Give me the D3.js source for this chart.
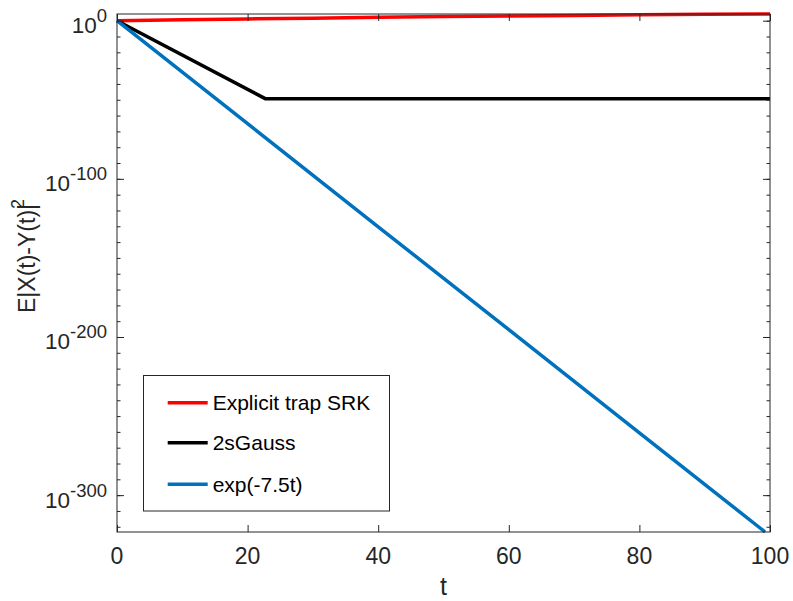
<!DOCTYPE html>
<html>
<head>
<meta charset="utf-8">
<style>
  body { margin: 0; background: #fff; }
  text { font-family: "Liberation Sans", Arial, sans-serif; }
</style>
</head>
<body>
<script src="https://cdn.jsdelivr.net/npm/d3@7"></script>
<svg width="793" height="601"></svg>
<script>
// series (y values given as powers of ten)
var seriesNames = ["Explicit trap SRK", "2sGauss", "exp(-7.5t)"];
var seriesColors = ["#ff0000", "#000000", "#0072bd"];

var redT = [0, 10, 20, 30, 40, 50, 60, 70, 80, 90, 100];
var redExp = [0, 0.55, 1.1, 1.6, 2.1, 2.6, 3.0, 3.35, 3.7, 4.0, 4.23];

var blackT = [0, 22.7, 40, 60, 80, 100];
var blackExp = [0, -49.3, -49.3, -49.3, -49.3, -49.3];

var blueT = [0, 20, 40, 60, 80, 99.25];
var blueExp = [0, -65.1, -130.3, -195.4, -260.6, -323.3];

var xTicks = [0, 20, 40, 60, 80, 100];
var yMajorExp = [0, -100, -200, -300];

var svg = d3.select("svg");
var margin = { left: 117, right: 23, top: 14, bottom: 69 };
var W = 793, H = 601;

var x = d3.scaleLinear().domain([0, 100]).range([margin.left, W - margin.right]);
var y = d3.scaleLog().base(10)
    .domain([Math.pow(10, -323.3), Math.pow(10, 4.23)])
    .range([H - margin.bottom, margin.top]);

var axisColor = "#262626";

function toPoints(ts, es) {
    return ts.map(function(t, i) { return [t, Math.pow(10, es[i])]; });
}
var data = [toPoints(redT, redExp), toPoints(blackT, blackExp), toPoints(blueT, blueExp)];

var line = d3.line().x(d => x(d[0])).y(d => y(d[1]));

// lines
svg.append("g").selectAll("path")
    .data(data)
    .enter().append("path")
    .attr("d", d => line(d))
    .attr("fill", "none")
    .attr("stroke", (d, i) => seriesColors[i])
    .attr("stroke-width", 3.5)
    .attr("stroke-linejoin", "round");

// minor y ticks every 10 decades
var minorVals = d3.range(-320, 1, 10).map(e => Math.pow(10, e));
var majorVals = yMajorExp.map(e => Math.pow(10, e));

var x0 = x.range()[0], x1 = x.range()[1];
var y0 = y.range()[0], y1 = y.range()[1];

// left & right axes (ticks pointing inward)
svg.append("g").attr("transform", "translate(" + x0 + ",0)")
    .call(d3.axisRight(y).tickValues(minorVals).tickSize(3.5).tickFormat(""))
    .call(g => g.select(".domain").remove());
svg.append("g").attr("transform", "translate(" + x0 + ",0)")
    .call(d3.axisRight(y).tickValues(majorVals).tickSize(7).tickFormat(""))
    .call(g => g.select(".domain").remove());
svg.append("g").attr("transform", "translate(" + x1 + ",0)")
    .call(d3.axisLeft(y).tickValues(minorVals).tickSize(3.5).tickFormat(""))
    .call(g => g.select(".domain").remove());
svg.append("g").attr("transform", "translate(" + x1 + ",0)")
    .call(d3.axisLeft(y).tickValues(majorVals).tickSize(7).tickFormat(""))
    .call(g => g.select(".domain").remove());

// bottom & top axes
svg.append("g").attr("transform", "translate(0," + y0 + ")")
    .call(d3.axisTop(x).tickValues(xTicks).tickSize(7).tickFormat(""))
    .call(g => g.select(".domain").remove());
svg.append("g").attr("transform", "translate(0," + y1 + ")")
    .call(d3.axisBottom(x).tickValues(xTicks).tickSize(7).tickFormat(""))
    .call(g => g.select(".domain").remove());

svg.selectAll(".tick line").attr("stroke", axisColor).attr("stroke-width", 1);

// box
svg.append("rect")
    .attr("x", x0).attr("y", y1)
    .attr("width", x1 - x0).attr("height", y0 - y1)
    .attr("fill", "none").attr("stroke", axisColor).attr("stroke-width", 1);

// x tick labels
svg.append("g").selectAll("text")
    .data(xTicks)
    .enter().append("text")
    .attr("x", d => x(d))
    .attr("y", 564)
    .attr("text-anchor", "middle")
    .attr("font-size", 23)
    .attr("fill", axisColor)
    .text(d => d);

// y tick labels 10^n
var yl = svg.append("g").selectAll("text")
    .data(yMajorExp)
    .enter().append("text")
    .attr("x", 107)
    .attr("y", d => y(Math.pow(10, d)) + 12.5)
    .attr("text-anchor", "end")
    .attr("font-size", 22.5)
    .attr("fill", axisColor);
yl.append("tspan").text("10");
yl.append("tspan").attr("font-size", 18.5).attr("dy", -11).text(d => d);

// axis labels
svg.append("text")
    .attr("x", (x0 + x1) / 2)
    .attr("y", 595)
    .attr("text-anchor", "middle")
    .attr("font-size", 25)
    .attr("fill", axisColor)
    .text("t");

var ylab = svg.append("text")
    .attr("transform", "translate(35,313) rotate(-90)")
    .attr("font-size", 23)
    .attr("fill", axisColor);
ylab.append("tspan").text("E|X(t)-Y(t)|");
ylab.append("tspan").attr("font-size", 18).attr("dx", -5).attr("dy", -11).text("2");

// legend
var legend = svg.append("g");
legend.append("rect")
    .attr("x", 143.5).attr("y", 375.5)
    .attr("width", 246).attr("height", 135.5)
    .attr("fill", "#fff").attr("stroke", axisColor).attr("stroke-width", 1);
var rowY = [402.7, 442.7, 484.3];
var rows = legend.selectAll("g.row")
    .data(seriesNames)
    .enter().append("g").attr("class", "row")
    .attr("transform", (d, i) => "translate(0," + rowY[i] + ")");
rows.append("line")
    .attr("x1", 167.7).attr("x2", 207.7)
    .attr("stroke", (d, i) => seriesColors[i])
    .attr("stroke-width", 3.5);
rows.append("text")
    .attr("x", 212.7).attr("y", 7.5)
    .attr("font-size", 21)
    .attr("fill", "#000")
    .text(d => d);
</script>
</body>
</html>
